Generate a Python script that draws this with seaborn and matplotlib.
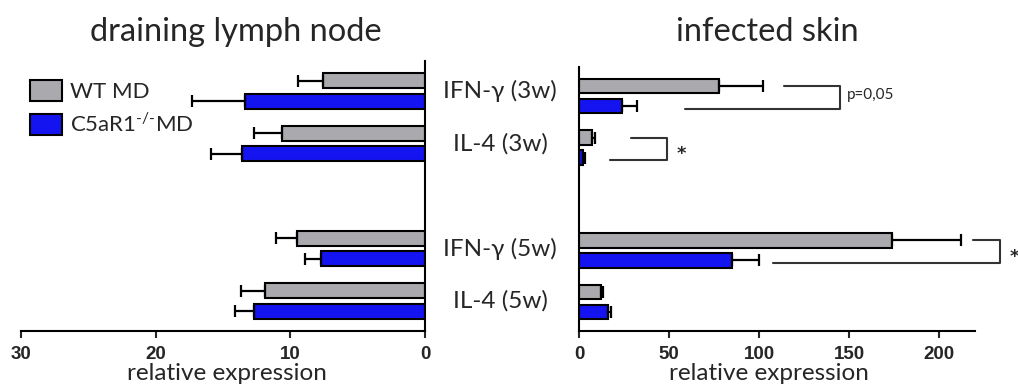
import seaborn as sns
import matplotlib.pyplot as plt
import pandas as pd
from matplotlib.transforms import blended_transform_factory

sns.set_style("white")
plt.rcParams["font.family"] = ["Lato", "DejaVu Sans"]
plt.rcParams["mathtext.fontset"] = "custom"
plt.rcParams["mathtext.rm"] = "Lato"

# categories (blank slot separates 3w and 5w)
order = ["IFN-γ (3w)", "IL-4 (3w)", " ", "IFN-γ (5w)", "IL-4 (5w)"]
measured = ["IFN-γ (3w)", "IL-4 (3w)", "IFN-γ (5w)", "IL-4 (5w)"]
groups = ["WT MD", r"C5aR1$^{\text{-/-}}$MD"]
colors = ["#a9a9ae", "#1414f0"]

# draining lymph node
lymph_wt = [7.6, 10.6, 9.5, 11.9]
lymph_wt_sd = [1.8, 2.1, 1.6, 1.8]
lymph_ko = [13.4, 13.6, 7.7, 12.7]
lymph_ko_sd = [3.9, 2.3, 1.2, 1.4]

# infected skin
skin_wt = [77.6, 7.0, 174.0, 12.0]
skin_wt_sd = [24.4, 2.0, 38.0, 1.5]
skin_ko = [24.0, 2.0, 85.0, 16.0]
skin_ko_sd = [8.0, 1.2, 15.0, 2.0]

# significance brackets: category, top start, bottom start, right x, label
brackets = [
    ("IFN-γ (3w)", 114, 59, 145, "p=0,05"),
    ("IL-4 (3w)", 29, 17, 49, "*"),
    ("IFN-γ (5w)", 219, 108, 234, "*"),
]


def make_df(wt, wt_sd, ko, ko_sd):
    rows = []
    for c, v, s in zip(measured, wt, wt_sd):
        rows.append({"cat": c, "group": groups[0], "value": v, "sd": s})
    for c, v, s in zip(measured, ko, ko_sd):
        rows.append({"cat": c, "group": groups[1], "value": v, "sd": s})
    return pd.DataFrame(rows)


lymph = make_df(lymph_wt, lymph_wt_sd, lymph_ko, lymph_ko_sd)
skin = make_df(skin_wt, skin_wt_sd, skin_ko, skin_ko_sd)

W, H = 1018, 389
fig = plt.figure(figsize=(W / 100, H / 100), dpi=100)
axL = fig.add_axes([21 / W, 1 - 331 / H, 404 / W, 270 / H])
axR = fig.add_axes([579 / W, 1 - 331 / H, 396 / W, 264 / H])


def style_ticks(ax):
    for lab in ax.get_xticklabels():
        lab.set_fontfamily("Liberation Sans")
        lab.set_fontweight("bold")
        lab.set_fontsize(13.5)


def draw(ax, df):
    sns.barplot(data=df, y="cat", x="value", hue="group", order=order,
                hue_order=groups, palette=colors, orient="h", width=0.78,
                gap=0.28, edgecolor="black", linewidth=1.5, saturation=1,
                errorbar=None, legend=True, ax=ax)
    centers = {}
    for g, cont in zip(groups, ax.containers):
        sub = df[df.group == g].set_index("cat")
        for bar in cont:
            yc = bar.get_y() + bar.get_height() / 2
            name = order[int(round(yc))]
            if name not in sub.index:
                continue
            v, s = sub.loc[name, "value"], sub.loc[name, "sd"]
            ax.errorbar(v, yc, xerr=[[0], [s]], fmt="none", ecolor="black",
                        elinewidth=1.6, capsize=4.5, capthick=1.6, zorder=1)
            centers[(name, g)] = yc
    ax.set_xlabel("relative expression", fontsize=17.5, labelpad=0)
    ax.set_ylabel("")
    ax.set_yticks([])
    ax.tick_params(axis="x", direction="out", length=5, width=1.5,
                   bottom=True, pad=6)
    for sp in ax.spines.values():
        sp.set_linewidth(1.5)
        sp.set_color("black")
    return centers


draw(axL, lymph)
axL.set_xlim(30, 0)
axL.set_xticks([30, 20, 10, 0])
style_ticks(axL)
axL.spines["left"].set_visible(False)
axL.spines["top"].set_visible(False)
axL.xaxis.set_label_coords(0.51, -0.12)

handles, labels = axL.get_legend_handles_labels()
axL.get_legend().remove()
axL.legend(handles, labels, loc="upper left", bbox_to_anchor=(30 / W, 1 - 80 / H),
           bbox_transform=fig.transFigure, frameon=False, fontsize=16,
           handlelength=1.45, handleheight=1.1, labelspacing=0.45,
           handletextpad=0.35, borderpad=0, borderaxespad=0)

centers = draw(axR, skin)
axR.get_legend().remove()
axR.set_xlim(0, 220)
axR.set_xticks([0, 50, 100, 150, 200])
style_ticks(axR)
axR.spines["right"].set_visible(False)
axR.spines["top"].set_visible(False)
axR.xaxis.set_label_coords(0.48, -0.123)

for cat, xtop, xbot, xr, label in brackets:
    y1 = centers[(cat, groups[0])]
    y2 = centers[(cat, groups[1])] + 0.05
    axR.plot([xtop, xr, xr, xbot], [y1, y1, y2, y2], color="#333333",
             lw=1.5, clip_on=False)
    if label.startswith("p"):
        axR.text(xr + 4, (y1 + y2) / 2 - 0.05, label, fontsize=11,
                 va="center", ha="left", clip_on=False)
    else:
        axR.text(xr + 5.5, (y1 + y2) / 2 + 0.1, label, fontsize=13,
                 family="DejaVu Sans", fontweight="bold", va="center",
                 ha="left", clip_on=False)

# category labels between panels
tr = blended_transform_factory(fig.transFigure, axL.transData)
for c in measured:
    axL.text(500 / W, order.index(c), c, transform=tr, ha="center",
             va="center", fontsize=17.5, clip_on=False)

fig.text(236 / W, 1 - 32 / H, "draining lymph node", ha="center", va="center",
         fontsize=23.5)
fig.text(767 / W, 1 - 32 / H, "infected skin", ha="center", va="center",
         fontsize=23.5)

fig.savefig("out.png", dpi=100)
